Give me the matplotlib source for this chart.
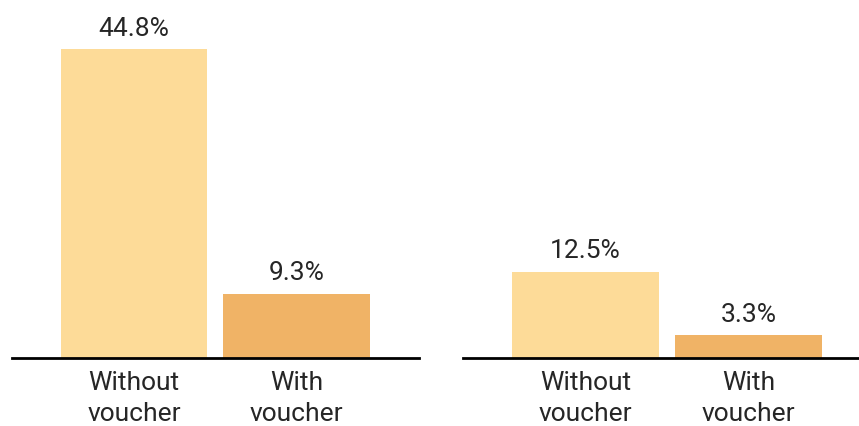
import matplotlib.pyplot as plt

categories = ["Without\nvoucher", "With\nvoucher"]
left_values = [44.8, 9.3]
right_values = [12.5, 3.3]
bar_colors = ["#FDDB98", "#F0B366"]

plt.rcParams['font.family'] = ['Roboto', 'DejaVu Sans']

fig = plt.figure(figsize=(8.59, 4.26), dpi=100)
ax_left = fig.add_axes([12 / 859, 68 / 426, 407 / 859, 345 / 426])
ax_right = fig.add_axes([463 / 859, 68 / 426, 396 / 859, 345 / 426])


def draw_panel(ax, values, xmax):
    x = range(len(values))
    bars = ax.bar(x, values, width=0.9, color=bar_colors)
    for bar, v in zip(bars, values):
        ax.annotate(f"{v}%", (bar.get_x() + bar.get_width() / 2, v),
                    xytext=(0, 6), textcoords="offset points",
                    ha="center", va="bottom", fontsize=19, color="#262626")
    ax.set_xlim(-0.75, xmax)
    ax.set_ylim(0, 50)
    ax.set_xticks(list(x))
    ax.set_xticklabels(categories, fontsize=19, color="#262626", linespacing=1.4)
    ax.tick_params(axis="x", length=0, pad=9)
    ax.set_yticks([])
    for side in ["top", "left", "right"]:
        ax.spines[side].set_visible(False)
    ax.spines["bottom"].set_linewidth(2)
    ax.spines["bottom"].set_color("black")


draw_panel(ax_left, left_values, 1.754)
draw_panel(ax_right, right_values, 1.675)

fig.savefig("out.png", dpi=100)
